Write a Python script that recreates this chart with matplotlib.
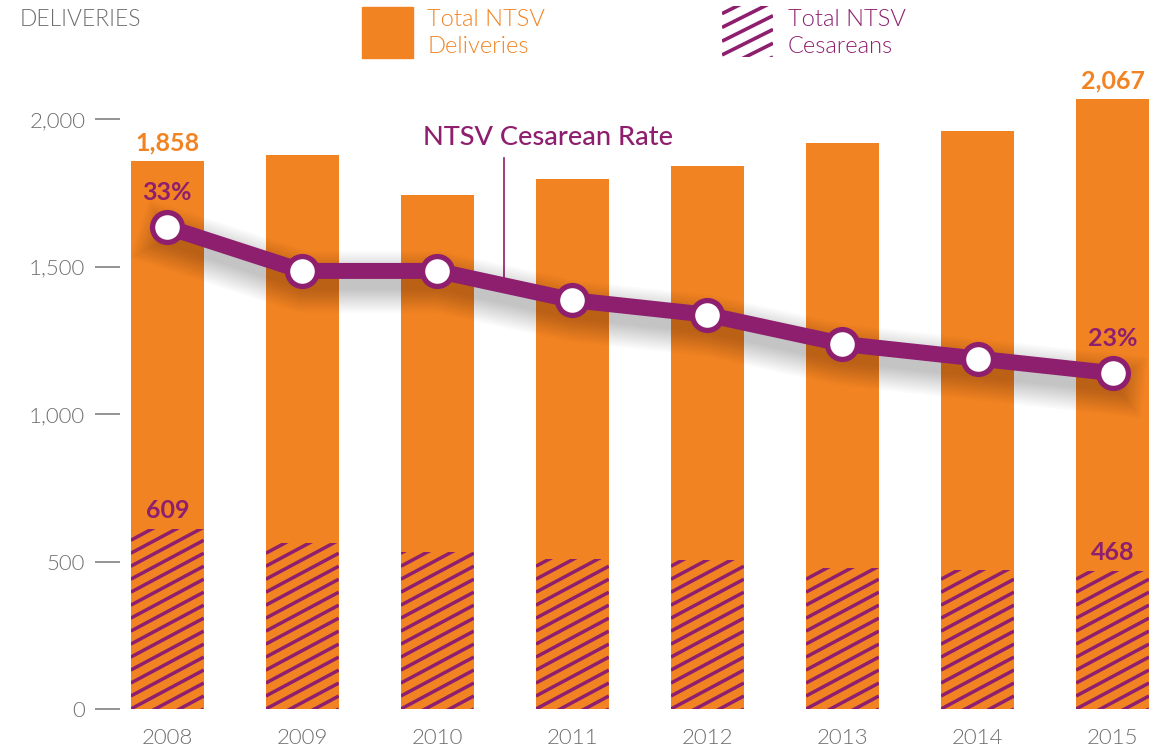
import matplotlib
import numpy as np

matplotlib.use("Agg")
import matplotlib.pyplot as plt
import matplotlib.patheffects as pe
from matplotlib.patches import Rectangle

years = ["2008", "2009", "2010", "2011", "2012", "2013", "2014", "2015"]
deliveries = [1858, 1878, 1742, 1797, 1841, 1919, 1959, 2067]
cesareans = [609, 563, 532, 508, 505, 478, 471, 468]
rates = [33, 30, 30, 28, 27, 25, 24, 23]
y_ticks = [0, 500, 1000, 1500, 2000]

ORANGE = "#f28322"
PURPLE = "#8e1f6e"
GRAY = "#6d6e71"

plt.rcParams["font.family"] = ["Lato", "DejaVu Sans"]

fig = plt.figure(figsize=(11.49, 7.51), dpi=100)
ax = fig.add_axes([120 / 1149, 42 / 751, 1029 / 1149, 634 / 751])
ymax = 2000 * 634 / 590
x = np.arange(len(years))
bar_w = 0.54

ax.set_xlim(-0.35, len(years) - 1 + 0.27)
ax.set_ylim(0, ymax)
for s in ax.spines.values():
    s.set_visible(False)

ax.bar(x, deliveries, bar_w, color=ORANGE, zorder=1)
ces_bars = ax.bar(x, cesareans, bar_w, color=ORANGE, zorder=2)

# diagonal purple hatching, clipped to each cesarean bar
step, rise = 44, 132
for patch in ces_bars:
    x0 = patch.get_x()
    x1 = x0 + patch.get_width()
    top = patch.get_height()
    for yy in np.arange(-rise, top + step, step):
        ln, = ax.plot([x0, x1], [yy, yy + rise], color=PURPLE, lw=2.5,
                      solid_capstyle="butt", zorder=3)
        ln.set_clip_path(patch)

ax.set_yticks(y_ticks)
ax.set_yticklabels([f"{v:,}" for v in y_ticks])
ax.tick_params(axis="y", length=18, width=1.3, color="#8a8b8d", pad=7,
               labelsize=16, labelcolor=GRAY)
ax.set_xticks(x)
ax.set_xticklabels(years)
ax.tick_params(axis="x", length=0, pad=14, labelsize=16, labelcolor=GRAY)
for lab in ax.get_xticklabels() + ax.get_yticklabels():
    lab.set_fontweight(300)

# value labels on first and last bars
for i in (0, len(years) - 1):
    ax.annotate(f"{deliveries[i]:,}", (x[i], deliveries[i]), xytext=(0, 5),
                textcoords="offset points", ha="center", va="bottom",
                fontsize=18, fontweight="bold", color=ORANGE)
    ax.annotate(f"{cesareans[i]:,}", (x[i], cesareans[i]), xytext=(0, 5),
                textcoords="offset points", ha="center", va="bottom",
                fontsize=18, fontweight="bold", color=PURPLE)

# cesarean rate line on hidden twin axis
ax2 = ax.twinx()
ax2.set_ylim(0, ymax / 49.5)
ax2.axis("off")

# soft drop shadow: many faint, widening strokes
shadow = [pe.SimpleLineShadow(offset=(1, -8), shadow_color="black", alpha=0.018,
                              linewidth=w)
          for w in range(44, 10, -3)]
ax2.plot(x, rates, color=PURPLE, lw=11.5, zorder=5,
         path_effects=shadow + [pe.Normal()], solid_joinstyle="round")
ax2.plot(x, rates, ls="none", marker="o", ms=21.5, mfc="white", mec=PURPLE,
         mew=3.8, zorder=6)

for i in (0, len(years) - 1):
    ax2.annotate(f"{rates[i]}%", (x[i], rates[i]), xytext=(0, 17),
                 textcoords="offset points", ha="center", va="bottom",
                 fontsize=18, fontweight="bold", color=PURPLE)

# series callout
lx = 2.49
ax2.plot([lx, lx], [np.interp(lx, x, rates), 1868 / 49.5], color=PURPLE,
         lw=1.2, zorder=4)
ax2.text(2.82, 1936 / 49.5, "NTSV Cesarean Rate", ha="center", va="center",
         fontsize=19.5, color=PURPLE, fontweight="medium")

# header and legend
fig.text(20 / 1149, 1 - 20 / 751, "DELIVERIES", ha="left", va="center",
         fontsize=16.5, color=GRAY, fontweight=300)

fig.patches.append(Rectangle((362 / 1149, 1 - 58 / 751), 51 / 1149, 51 / 751,
                             transform=fig.transFigure, color=ORANGE))
fig.text(427 / 1149, 1 - 33 / 751, "Total NTSV\nDeliveries", ha="left",
         va="center", fontsize=17, color=ORANGE, linespacing=1.3, fontweight=300)

lax = fig.add_axes([722 / 1149, 1 - 57 / 751, 51 / 1149, 51 / 751])
lax.set_xlim(0, 1)
lax.set_ylim(0, 1)
lax.axis("off")
box = Rectangle((0, 0), 1, 1, transform=lax.transData, fc="none", ec="none")
lax.add_patch(box)
for yy in np.arange(-0.5, 1.1, 0.27):
    ln, = lax.plot([0, 1], [yy, yy + 0.5], color=PURPLE, lw=2.6,
                   solid_capstyle="butt")
    ln.set_clip_path(box)
fig.text(788 / 1149, 1 - 33 / 751, "Total NTSV\nCesareans", ha="left",
         va="center", fontsize=17, color=PURPLE, linespacing=1.3, fontweight=300)

fig.savefig("out.png", dpi=100)
